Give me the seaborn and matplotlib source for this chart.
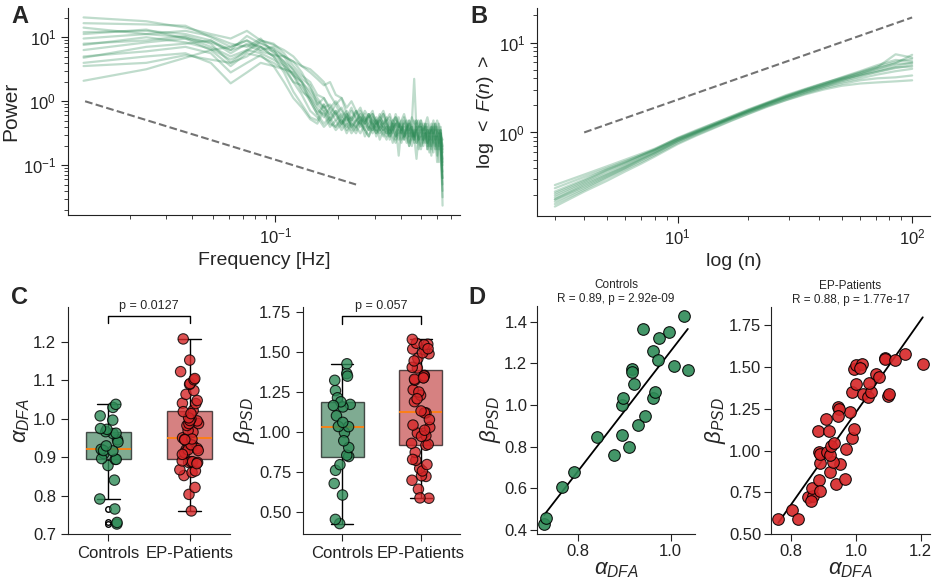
import numpy as np
import pandas as pd
import seaborn as sns
import matplotlib.pyplot as plt

# ------------------ DATA ------------------
# Panel A: power spectra (log10 power), one list per subject
freqs = [0.012, 0.024, 0.037, 0.049, 0.061, 0.073, 0.085, 0.098, 0.110, 0.122, 0.134, 0.147, 0.159,
         0.171, 0.183, 0.195, 0.208, 0.220, 0.232, 0.244, 0.256, 0.269, 0.281, 0.293, 0.305, 0.317,
         0.330, 0.342, 0.354, 0.366, 0.378, 0.391, 0.403, 0.415, 0.427, 0.439, 0.452, 0.464, 0.476,
         0.488, 0.500, 0.513, 0.525, 0.537, 0.549, 0.561, 0.574, 0.586, 0.598, 0.610, 0.622, 0.635]

psd_log10 = [
    [1.31, 1.25, 1.15, 1.05, 0.98, 1.10, 0.95, 0.90, 0.75, 0.55, 0.40, 0.30, 0.10,
     0.05, -0.10, 0.00, -0.15, -0.25, -0.10, -0.30, -0.20, -0.35, -0.25, -0.15, -0.40, -0.30,
     -0.20, -0.35, -0.45, -0.30, -0.25, -0.40, -0.50, -0.35, -0.30, -0.45, -0.40, -0.55, -0.35,
     -0.30, -0.45, -0.60, -0.40, -0.35, -0.50, -0.45, -0.30, -0.55, -0.40, -0.50, -0.45, -0.90],
    [1.22, 1.20, 1.18, 1.00, 0.85, 0.95, 0.80, 0.85, 0.70, 0.62, 0.45, 0.20, 0.05,
     -0.10, -0.05, -0.20, -0.10, -0.30, -0.25, -0.15, -0.35, -0.25, -0.40, -0.20, -0.30, -0.45,
     -0.35, -0.25, -0.40, -0.50, -0.30, -0.35, -0.45, -0.25, -0.40, -0.55, -0.45, -0.30, -0.50,
     -0.60, -0.40, -0.45, -0.35, -0.55, -0.70, -0.45, -0.40, -0.60, -0.50, -0.35, -0.55, -1.20],
    [1.08, 1.10, 1.05, 0.95, 0.75, 0.90, 0.85, 0.70, 0.45, 0.15, -0.05, -0.25, -0.30,
     -0.05, -0.30, -0.15, -0.35, -0.20, -0.40, -0.30, -0.25, -0.45, -0.30, -0.35, -0.50, -0.40,
     -0.30, -0.45, -0.55, -0.40, -0.35, -0.50, -0.45, -0.60, -0.40, -0.35, -0.55, -0.45, -0.65,
     -0.50, -0.40, -0.55, -0.45, -0.70, -0.50, -0.60, -0.45, -0.55, -0.75, -0.50, -0.45, -1.63],
    [0.98, 1.05, 1.00, 0.85, 0.70, 0.80, 0.75, 0.65, 0.55, 0.40, 0.30, 0.15, 0.00,
     -0.10, -0.20, -0.05, -0.25, -0.15, -0.30, -0.20, -0.10, -0.30, -0.45, -0.25, -0.35, -0.20,
     -0.40, -0.30, -0.25, -0.45, -0.35, -0.40, -0.30, -0.50, -0.45, -0.35, -0.60, -0.40, -0.30,
     -0.45, -0.55, -0.35, -0.50, -0.40, -0.60, -0.45, -0.55, -0.35, -0.50, -0.65, -0.40, -0.80],
    [0.90, 0.95, 1.02, 0.90, 0.60, 0.70, 0.85, 0.78, 0.62, 0.50, 0.35, 0.25, -0.05,
     -0.15, -0.30, -0.20, -0.40, -0.25, -0.35, -0.45, -0.25, -0.35, -0.20, -0.40, -0.50, -0.30,
     -0.45, -0.35, -0.60, -0.45, -0.35, -0.85, -0.40, -0.50, -0.65, -0.45, -0.40, -0.55, -0.90,
     -0.50, -0.45, -0.60, -0.50, -0.75, -0.55, -0.45, -0.65, -0.55, -0.95, -0.60, -0.50, -1.10],
    [0.80, 0.92, 0.98, 0.80, 0.55, 0.75, 0.70, 0.60, 0.50, 0.45, 0.30, 0.10, -0.05,
     0.05, -0.15, -0.30, -0.20, -0.35, -0.15, -0.25, -0.40, -0.30, -0.20, -0.35, -0.25, -0.45,
     -0.35, -0.50, -0.30, -0.40, -0.55, -0.35, -0.45, -0.40, -0.50, -0.30, -0.45, -0.60, -0.50,
     -0.40, -0.35, -0.55, -0.65, -0.45, -0.50, -0.40, -0.60, -0.70, -0.45, -0.55, -0.60, -0.95],
    [0.70, 0.78, 0.85, 0.75, 0.45, 0.60, 0.72, 0.55, 0.30, 0.05, -0.10, -0.28, -0.35,
     -0.15, -0.35, -0.40, -0.25, -0.45, -0.30, -0.40, -0.50, -0.35, -0.45, -0.30, -0.55, -0.40,
     -0.50, -0.60, -0.45, -0.35, -0.55, -0.50, -0.65, -0.45, -0.55, -0.70, -0.50, -0.60, -0.45,
     -0.75, -0.55, -0.65, -0.50, -0.60, -0.80, -0.55, -0.65, -0.75, -0.55, -0.70, -0.60, -1.30],
    [0.60, 0.70, 0.75, 0.60, 0.28, 0.45, 0.60, 0.55, 0.50, 0.30, 0.25, 0.05, -0.10,
     -0.25, -0.10, -0.20, -0.35, -0.20, -0.45, -0.30, -0.35, -0.20, -0.40, -0.50, -0.35, -0.30,
     -0.45, -0.40, -0.55, -0.35, -0.45, -0.60, -0.40, -0.55, -0.35, -0.50, -0.45, -0.65, -0.40,
     -0.55, -0.60, -0.45, -0.40, -0.65, -0.55, -0.70, -0.50, -0.45, -0.60, -0.75, -0.55, -1.00],
    [0.32, 0.50, 0.68, 0.80, 0.85, 0.95, 0.85, 0.70, 0.58, 0.42, 0.20, 0.00, -0.20,
     -0.35, -0.25, -0.40, -0.30, -0.50, -0.35, -0.40, -0.30, -0.55, -0.40, -0.45, -0.35, -0.60,
     -0.45, -0.50, -0.40, -0.55, -0.65, -0.45, -0.50, -0.60, -0.40, -0.55, -0.70, -0.50, -0.45,
     -0.60, -0.75, -0.55, -0.50, -0.65, -0.45, -0.60, -0.80, -0.55, -0.85, -0.50, -0.70, -1.40],
    [0.55, 0.60, 0.72, 0.65, 0.60, 0.80, 0.95, 0.88, 0.80, 0.70, 0.55, 0.50, 0.40,
     0.30, 0.10, -0.05, 0.05, -0.20, -0.30, -0.15, -0.25, -0.35, -0.20, -0.30, -0.45, -0.25,
     -0.35, -0.30, -0.50, -0.40, -0.20, -0.35, -0.45, -0.30, -0.40, -0.55, -0.35, 0.35, -0.45,
     -0.40, -0.40, -0.50, -0.35, -0.45, -0.55, -0.40, -0.50, -0.35, -0.45, -0.60, -0.50, -0.70],
    [1.05, 1.12, 0.98, 0.92, 0.80, 1.02, 0.90, 0.82, 0.55, 0.30, 0.10, -0.15, -0.25,
     -0.40, -0.30, -0.45, -0.35, -0.25, -0.40, -0.50, -0.35, -0.45, -0.55, -0.40, -0.30, -0.45,
     -0.55, -0.40, -0.50, -0.45, -0.60, -0.40, -0.35, -0.55, -0.50, -0.65, -0.45, -0.55, -0.40,
     -0.60, -0.50, -0.70, -0.55, -0.45, -0.60, -0.75, -0.50, -0.60, -0.55, -0.65, -0.80, -1.20],
    [0.88, 1.00, 0.92, 0.82, 0.65, 0.78, 0.92, 0.80, 0.70, 0.48, 0.30, 0.00, -0.20,
     -0.05, -0.25, -0.15, -0.30, -0.40, -0.25, -0.35, -0.15, -0.30, -0.25, -0.45, -0.30, -0.40,
     -0.20, -0.35, -0.45, -0.30, -0.40, -0.25, -0.50, -0.35, -0.45, -0.30, -0.40, -0.55, -0.35,
     -0.45, -0.30, -0.50, -0.40, -0.55, -0.45, -0.35, -0.50, -0.40, -0.55, -0.45, -0.50, -0.75],
    [1.15, 1.05, 1.10, 1.02, 0.90, 0.85, 0.98, 0.75, 0.62, 0.40, 0.15, 0.05, -0.15,
     -0.20, -0.40, -0.30, -0.45, -0.35, -0.50, -0.40, -0.30, -0.45, -0.55, -0.35, -0.45, -0.50,
     -0.40, -0.55, -0.45, -0.65, -0.50, -0.40, -0.60, -0.55, -0.45, -0.70, -0.55, -0.50, -0.65,
     -0.55, -0.70, -0.60, -0.50, -0.75, -0.60, -0.85, -0.55, -0.65, -0.70, -0.95, -0.60, -1.50],
    [0.68, 0.85, 0.90, 0.95, 0.80, 0.88, 0.78, 0.72, 0.70, 0.62, 0.55, 0.45, 0.35,
     0.25, 0.30, 0.10, 0.05, -0.10, 0.00, -0.15, -0.30, -0.15, -0.25, -0.20, -0.35, -0.25,
     -0.15, -0.30, -0.20, -0.35, -0.25, -0.40, -0.30, -0.20, -0.35, -0.45, -0.25, -0.35, -0.30,
     -0.40, -0.30, -0.45, -0.35, -0.25, -0.40, -0.50, -0.35, -0.45, -0.30, -0.40, -0.55, -0.60],
]
slope_freqs = [0.0122, 0.244]
slope_power = [1.0, 0.05]

# Panel B: DFA fluctuation functions
dfa_n = [3, 4, 5, 6, 7, 8, 10, 12, 14, 17, 20, 24, 29, 35, 42, 50, 60, 71, 85, 100]
dfa_F = [
    [0.26, 0.34, 0.42, 0.50, 0.58, 0.66, 0.86, 1.03, 1.20, 1.46, 1.72, 2.05, 2.45, 2.85, 3.30, 3.80, 4.40, 5.10, 5.90, 7.30],
    [0.22, 0.30, 0.39, 0.47, 0.56, 0.65, 0.87, 1.06, 1.24, 1.52, 1.80, 2.15, 2.60, 3.05, 3.55, 4.05, 4.70, 5.40, 6.10, 6.60],
    [0.20, 0.28, 0.37, 0.45, 0.54, 0.63, 0.84, 1.02, 1.20, 1.48, 1.75, 2.10, 2.50, 2.95, 3.40, 3.90, 4.40, 4.90, 5.50, 6.00],
    [0.18, 0.26, 0.34, 0.42, 0.51, 0.60, 0.80, 0.98, 1.16, 1.44, 1.70, 2.05, 2.45, 2.90, 3.35, 3.85, 4.30, 4.70, 5.20, 5.60],
    [0.17, 0.24, 0.32, 0.40, 0.49, 0.58, 0.79, 0.97, 1.15, 1.42, 1.68, 2.00, 2.40, 2.80, 3.20, 3.60, 4.00, 4.40, 4.80, 5.10],
    [0.16, 0.23, 0.31, 0.39, 0.47, 0.56, 0.76, 0.94, 1.11, 1.37, 1.62, 1.95, 2.30, 2.70, 3.10, 3.45, 3.80, 4.00, 4.10, 4.30],
    [0.15, 0.22, 0.29, 0.37, 0.45, 0.54, 0.74, 0.92, 1.09, 1.35, 1.60, 1.92, 2.28, 2.65, 3.00, 3.30, 3.50, 3.60, 3.70, 3.80],
    [0.21, 0.29, 0.38, 0.46, 0.55, 0.64, 0.85, 1.04, 1.23, 1.50, 1.78, 2.12, 2.55, 3.00, 3.50, 4.10, 4.80, 5.60, 6.40, 6.20],
    [0.19, 0.27, 0.35, 0.43, 0.52, 0.61, 0.82, 1.00, 1.18, 1.45, 1.73, 2.07, 2.48, 2.92, 3.40, 3.95, 4.55, 5.20, 5.80, 5.90],
    [0.24, 0.32, 0.40, 0.48, 0.56, 0.64, 0.83, 1.00, 1.17, 1.42, 1.67, 1.98, 2.36, 2.78, 3.22, 3.70, 4.20, 4.75, 5.30, 5.40],
    [0.18, 0.25, 0.33, 0.41, 0.50, 0.59, 0.80, 0.99, 1.18, 1.46, 1.74, 2.10, 2.52, 3.00, 3.50, 4.00, 4.60, 5.30, 7.40, 6.80],
]
dfa_ref_n = [4, 100]
dfa_ref_F = [1.0, 19.0]

# Panels C/D: per-subject exponents
groups = ['Controls', 'EP-Patients']
controls_alpha = [0.726, 0.730, 0.765, 0.791, 0.840, 0.878, 0.894, 0.909, 0.894, 0.896, 0.920, 0.917, 0.916,
                  0.929, 0.945, 0.939, 0.961, 0.962, 0.966, 0.972, 0.974, 0.996, 1.007, 1.029, 1.037]
controls_beta = [0.430, 0.456, 0.608, 0.680, 0.848, 0.762, 0.856, 0.797, 0.998, 1.034, 1.102, 1.173, 1.157,
                 0.904, 0.946, 1.365, 1.259, 1.035, 1.061, 1.214, 1.323, 1.349, 1.189, 1.426, 1.166]
patients_alpha = [0.760, 0.803, 0.821, 0.852, 0.867, 0.860, 0.864, 0.886, 0.888, 0.919, 0.940, 0.950, 0.930,
                  0.888, 0.886, 0.890, 0.911, 0.919, 0.922, 0.932, 0.883, 0.917, 0.907, 0.965, 0.969, 0.987,
                  0.994, 0.982, 0.946, 0.947, 0.945, 0.987, 0.999, 1.021, 1.039, 1.047, 1.040, 1.063, 1.073,
                  0.995, 1.002, 1.018, 1.013, 1.089, 1.091, 1.122, 1.152, 1.101, 1.104, 1.207]
patients_beta = [0.588, 0.644, 0.590, 0.724, 0.728, 0.700, 0.774, 0.824, 0.758, 0.874, 0.798, 0.918, 0.930,
                 0.924, 0.994, 0.978, 0.994, 0.974, 1.030, 1.044, 1.120, 1.120, 1.190, 0.830, 1.012, 1.078,
                 1.132, 1.230, 1.264, 1.250, 1.208, 1.354, 1.400, 1.340, 1.324, 1.350, 1.404, 1.460, 1.444,
                 1.488, 1.514, 1.518, 1.494, 1.554, 1.548, 1.544, 1.578, 1.330, 1.338, 1.520]
p_texts = ['p = 0.0127', 'p = 0.057']
corr_titles = ['Controls\nR = 0.89, p = 2.92e-09', 'EP-Patients\nR = 0.88, p = 1.77e-17']

# ------------------ STYLE ------------------
sns.set_style('ticks')
plt.rcParams['font.family'] = ['Liberation Sans', 'DejaVu Sans']
plt.rcParams['mathtext.fontset'] = 'custom'
plt.rcParams['mathtext.rm'] = 'Liberation Sans'
plt.rcParams['mathtext.it'] = 'Liberation Sans:italic'
plt.rcParams['mathtext.bf'] = 'Liberation Sans:bold'
plt.rcParams['axes.edgecolor'] = '#222222'
plt.rcParams['xtick.color'] = '#222222'
plt.rcParams['ytick.color'] = '#222222'

green = '#2e8b57'
red = '#d62728'
palette = {'Controls': green, 'EP-Patients': red}

psd_df = pd.DataFrame([
    {'subject': i, 'freq': f, 'power': 10 ** p}
    for i, row in enumerate(psd_log10) for f, p in zip(freqs, row)
])
dfa_df = pd.DataFrame([
    {'subject': i, 'n': n, 'F': v}
    for i, row in enumerate(dfa_F) for n, v in zip(dfa_n, row)
])
subj_df = pd.DataFrame({
    'group': ['Controls'] * len(controls_alpha) + ['EP-Patients'] * len(patients_alpha),
    'alpha': controls_alpha + patients_alpha,
    'beta': controls_beta + patients_beta,
})

fig = plt.figure(figsize=(9.37, 5.83), dpi=100)


def px_axes(x0, y0, x1, y1):
    return fig.add_axes([x0 / 937, 1 - y1 / 583, (x1 - x0) / 937, (y1 - y0) / 583])


ax_a = px_axes(68, 8, 460, 215)
ax_b = px_axes(537, 8, 930, 216)
ax_c1 = px_axes(68, 307, 230, 534)
ax_c2 = px_axes(303, 307, 460, 534)
ax_d1 = px_axes(537, 306, 695, 534)
ax_d2 = px_axes(771, 307, 930, 534)

# ------------------ A: PSD ------------------
sns.lineplot(data=psd_df, x='freq', y='power', units='subject', estimator=None,
             color=green, alpha=0.3, lw=1.6, ax=ax_a)
ax_a.plot(slope_freqs, slope_power, ls='--', color='0.45', lw=1.5)
ax_a.set(xscale='log', yscale='log')
ax_a.set_xlim(0.0101, 0.77)
ax_a.set_xlabel('Frequency [Hz]', fontsize=14)
ax_a.set_ylabel('Power', fontsize=15, labelpad=2)

# ------------------ B: DFA ------------------
sns.lineplot(data=dfa_df, x='n', y='F', units='subject', estimator=None,
             color=green, alpha=0.3, lw=1.6, ax=ax_b)
ax_b.plot(dfa_ref_n, dfa_ref_F, ls='--', color='0.45', lw=1.5)
ax_b.set(xscale='log', yscale='log')
ax_b.set_xlabel('log (n)', fontsize=14)
ax_b.set_ylabel(r'$\log\ <\ F(n)\ >$', fontsize=14, labelpad=2)

for ax in (ax_a, ax_b):
    ax.tick_params(which='major', labelsize=12, length=5)
    ax.tick_params(which='minor', length=3)

# ------------------ C: box + strip ------------------
for ax, col, label, ptxt, ybr in [
    (ax_c1, 'alpha', r'$\alpha_{DFA}$', p_texts[0], (1.248, 1.267)),
    (ax_c2, 'beta', r'$\beta_{PSD}$', p_texts[1], (1.677, 1.723)),
]:
    sns.boxplot(data=subj_df, x='group', y=col, hue='group', palette=palette, order=groups,
                width=0.55, linecolor='black', linewidth=1.0, legend=False,
                boxprops=dict(alpha=0.65),
                medianprops=dict(color='#ff7f0e', lw=1.3, alpha=1),
                flierprops=dict(marker='o', markerfacecolor='none', markeredgecolor='black',
                                markersize=4, alpha=1),
                ax=ax)
    sns.stripplot(data=subj_df, x='group', y=col, hue='group', palette=palette, order=groups,
                  jitter=0.12, size=7.5, edgecolor='black', linewidth=0.8, alpha=0.8,
                  legend=False, ax=ax, zorder=3)
    ax.plot([0, 0, 1, 1], [ybr[0], ybr[1], ybr[1], ybr[0]], color='black', lw=1, clip_on=False)
    ax.text(0.5, ybr[1] + (ybr[1] - ybr[0]) * 0.5, ptxt, ha='center', va='bottom', fontsize=9)
    ax.set_xlim(-0.5, 1.5)
    ax.set_xlabel('')
    ax.set_ylabel(label, fontsize=16, labelpad=1)
    ax.tick_params(labelsize=12, length=5)

ax_c1.set_ylim(0.7, 1.29)
ax_c1.set_yticks([0.7, 0.8, 0.9, 1.0, 1.1, 1.2])
ax_c2.set_ylim(0.365, 1.78)
ax_c2.set_yticks([0.5, 0.75, 1.0, 1.25, 1.5, 1.75])

# ------------------ D: correlations ------------------
for ax, grp, title in [(ax_d1, 'Controls', corr_titles[0]), (ax_d2, 'EP-Patients', corr_titles[1])]:
    sub = subj_df[subj_df['group'] == grp]
    sns.regplot(data=sub, x='alpha', y='beta', scatter=False, ci=None, color='black',
                line_kws=dict(lw=1.3), ax=ax)
    sns.scatterplot(data=sub, x='alpha', y='beta', color=palette[grp], s=70,
                    edgecolor='black', linewidth=0.8, alpha=0.9, ax=ax, zorder=3)
    ax.set_title(title, fontsize=8.5, pad=3)
    ax.set_xlabel(r'$\alpha_{DFA}$', fontsize=16, labelpad=0)
    ax.set_ylabel(r'$\beta_{PSD}$', fontsize=16, labelpad=1)
    ax.tick_params(labelsize=12, length=5, pad=2)

ax_d1.set_xticks([0.8, 1.0])
ax_d1.set_yticks([0.4, 0.6, 0.8, 1.0, 1.2, 1.4])
ax_d2.set_xticks([0.8, 1.0, 1.2])
ax_d2.set_yticks([0.5, 0.75, 1.0, 1.25, 1.5, 1.75])
ax_d2.set_ylim(bottom=0.5)

for ax in (ax_a, ax_b, ax_c1, ax_c2, ax_d1, ax_d2):
    sns.despine(ax=ax)

# panel letters
for txt, x, y in [('A', 0.021, 0.971), ('B', 0.511, 0.971), ('C', 0.021, 0.489), ('D', 0.509, 0.489)]:
    fig.text(x, y, txt, fontsize=17, fontweight='bold', ha='center', va='center')

fig.savefig('out.png', dpi=100)
plt.close(fig)
